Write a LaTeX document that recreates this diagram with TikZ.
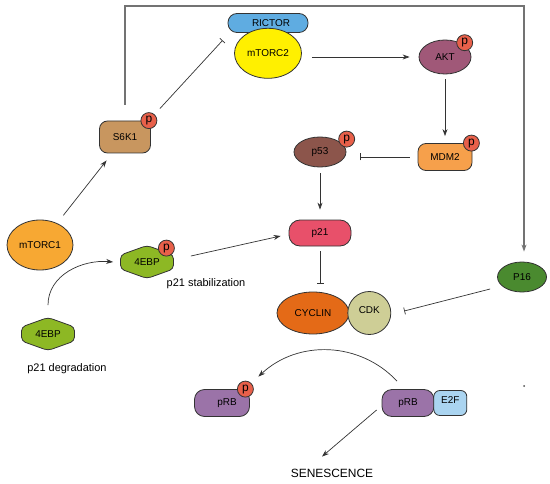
\documentclass[tikz,border=0pt]{standalone}
\usepackage{fontspec}
\setmainfont{Liberation Sans}
\usepackage{xcolor}
\usepackage{tikz}
\usetikzlibrary{arrows.meta,positioning,shapes.geometric,backgrounds}

\definecolor{rictorcol}{RGB}{95,172,225}
\definecolor{mtorctwocol}{RGB}{255,240,0}
\definecolor{aktcol}{RGB}{160,88,120}
\definecolor{mdmcol}{RGB}{246,160,75}
\definecolor{pfiftycol}{RGB}{140,85,75}
\definecolor{ptwentycol}{RGB}{232,80,106}
\definecolor{sixkcol}{RGB}{200,150,95}
\definecolor{mtorconecol}{RGB}{247,168,51}
\definecolor{ebpcol}{RGB}{141,184,36}
\definecolor{psixteencol}{RGB}{74,138,47}
\definecolor{cyclincol}{RGB}{228,106,23}
\definecolor{cdkcol}{RGB}{206,206,150}
\definecolor{prbcol}{RGB}{155,115,168}
\definecolor{etwofcol}{RGB}{170,212,240}
\definecolor{badgecol}{RGB}{232,96,74}

\begin{document}
\begin{tikzpicture}[
  x=1bp, y=1bp,
  prot/.style={draw=black!80, line width=0.8bp, align=center, inner sep=0pt,
    font=\fontsize{10}{12}\selectfont},
  box/.style={prot, rectangle, rounded corners=8bp},
  oval/.style={prot, ellipse},
  badge/.style={prot, circle, fill=badgecol, minimum size=16bp,
    font=\fontsize{12}{12}\selectfont},
  note/.style={font=\fontsize{11}{13}\selectfont, inner sep=1bp},
  arrow/.style={-{Stealth[length=7bp,width=5bp]}, draw=black!80, line width=0.7bp},
  inhib/.style={-{Bar[width=7bp]}, draw=black!80, line width=0.7bp},
  frameline/.style={-{Stealth[length=7bp,width=5bp]}, draw=black!55, line width=1.2bp}
]
\useasboundingbox (0,0) rectangle (550,-484);

% mTORC2 complex
\node[box, fill=rictorcol, rounded corners=9bp, minimum width=80bp, minimum height=19bp]
  (rictor) at (268,-23) {\hspace*{6bp}RICTOR};
\node[oval, fill=mtorctwocol, minimum width=67bp, minimum height=50bp, below=-5bp of rictor]
  (mtorc2) {mTORC2};

\node[oval, fill=aktcol, minimum width=52bp, minimum height=34bp] (akt) at (445,-57) {AKT};
\node[box, fill=mdmcol, minimum width=54bp, minimum height=27bp] (mdm2) at (445,-157) {MDM2};
\node[oval, fill=pfiftycol, minimum width=52bp, minimum height=30bp] (p53) at (320,-152) {p53};
\node[box, fill=ptwentycol, rounded corners=11bp, minimum width=62bp, minimum height=26bp]
  (p21) at (320,-233) {p21};
\node[oval, fill=cyclincol, minimum width=72bp, minimum height=42bp] (cyclin) at (313,-313) {CYCLIN};
\node[prot, circle, fill=cdkcol, minimum size=43bp, right=-2bp of cyclin] (cdk) {\raisebox{6bp}{CDK}};
\node[oval, fill=psixteencol, minimum width=49bp, minimum height=30bp] (p16) at (522,-277) {P16};

\node[box, fill=sixkcol, minimum width=51bp, minimum height=32bp] (s6k1) at (125,-137) {S6K1};
\node[oval, fill=mtorconecol, minimum width=66bp, minimum height=50bp] (mtorc1) at (40,-245) {mTORC1};

% 4EBP (drawn as hexagons below)
\node[prot, draw=none, minimum width=53bp, minimum height=33bp] (ebpP) at (147,-262) {4EBP};
\node[prot, draw=none, minimum width=53bp, minimum height=33bp] (ebp) at (48,-334) {4EBP};
\node[note] (stab) at (206,-284) {p21 stabilization};
\node[note] (degr) at (67,-369) {p21 degradation};

% pRB
\node[box, fill=prbcol, rounded corners=10bp, minimum width=55bp, minimum height=27bp]
  (prbP) at (222,-403) {\hspace*{10bp}pRB};
\node[box, fill=prbcol, rounded corners=10bp, minimum width=52bp, minimum height=27bp]
  (prb) at (408,-403) {pRB};
\node[box, fill=etwofcol, rounded corners=6bp, minimum width=33bp, minimum height=25bp,
  right=-1bp of prb] (e2f) {\raisebox{5bp}{E2F}};
\node[font=\fontsize{12}{14}\selectfont, inner sep=2bp] (senes) at (332,-473) {SENESCENCE};

\begin{scope}[on background layer]
  \foreach \n in {ebpP, ebp}
    \filldraw[fill=ebpcol, draw=black!80, line width=0.8bp, rounded corners=4bp]
      ([shift={(-26.5bp,7bp)}]\n.center) -- ([shift={(0bp,16.5bp)}]\n.center)
      -- ([shift={(26.5bp,7bp)}]\n.center) -- ([shift={(26.5bp,-7bp)}]\n.center)
      -- ([shift={(0bp,-16.5bp)}]\n.center) -- ([shift={(-26.5bp,-7bp)}]\n.center) -- cycle;
\end{scope}

% phosphates
\node[badge] (s6k1p) at ([xshift=-2bp]s6k1.north east) {p};
\node[badge] (aktp) at ([shift={(1bp,2bp)}]akt.north east) {p};
\node[badge] (mdm2p) at ([xshift=-1bp]mdm2.north east) {p};
\node[badge] (p53p) at ([shift={(8bp,2bp)}]p53.north east) {p};
\node[badge] (ebpPp) at ([shift={(-7.5bp,-3bp)}]ebpP.north east) {p};
\node[badge] (prbPp) at ([xshift=-4.5bp]prbP.north east) {p};

% connectors
\coordinate (corner) at (524,-6);
\draw[frameline, shorten >=10bp] ([yshift=16bp]s6k1.north) |- (corner) -- (corner |- p16.north);
\draw[arrow, shorten <=10bp, shorten >=9bp] (mtorc1) -- (s6k1);
\draw[inhib] ([shift={(9bp,12bp)}]s6k1.north east) -- ([shift={(-5bp,-7.5bp)}]rictor.south west);
\draw[arrow, shorten <=10bp, shorten >=9bp] (mtorc2.east |- akt) -- (akt.west);
\draw[arrow, shorten <=5bp, shorten >=7bp] (akt) -- (mdm2);
\draw[inhib, shorten <=8bp, shorten >=14bp] (mdm2.west) -- (p53.east |- mdm2.west);
\draw[arrow, shorten <=6bp, shorten >=10bp] (p53) -- (p21);
\draw[inhib, shorten <=5bp, shorten >=8bp] (p21) -- (p21 |- cyclin.north);
\draw[inhib] ([shift={(-7bp,-12bp)}]p16.west) -- ([shift={(13bp,2bp)}]cdk.east);
\draw[arrow] ([yshift=12bp]ebp.north) to[out=90, in=175] ([xshift=-7bp]ebpP.west);
\draw[arrow] ([shift={(17bp,6bp)}]ebpP.east) -- ([shift={(-8bp,-3bp)}]p21.west);
\draw[arrow] ([shift={(-11bp,8bp)}]prb.north) to[bend right=45] ([shift={(8.5bp,12.5bp)}]prbP.north east);
\draw[arrow] ([shift={(-5bp,-7bp)}]prb.west) -- ([shift={(-10bp,10bp)}]senes.north);

\fill[black!70] (524,-386) circle (1bp);
\end{tikzpicture}
\end{document}
